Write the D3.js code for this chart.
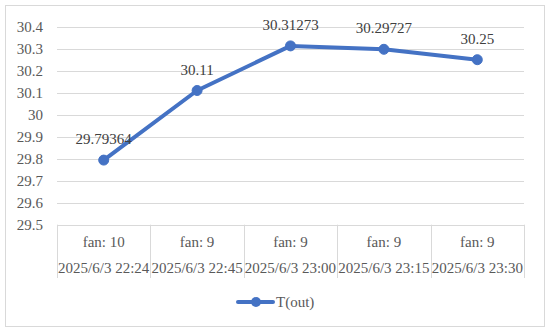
<!DOCTYPE html>
<html>
<head>
<meta charset="utf-8">
<script src="https://cdn.jsdelivr.net/npm/d3@7"></script>
</head>
<body style="margin:0;background:#fff">
<svg></svg>
<script>
let fans = ["fan: 10", "fan: 9", "fan: 9", "fan: 9", "fan: 9"];
let times = ["2025/6/3 22:24", "2025/6/3 22:45", "2025/6/3 23:00", "2025/6/3 23:15", "2025/6/3 23:30"];
let values = [29.79364, 30.11, 30.31273, 30.29727, 30.25];
let valueLabels = ["29.79364", "30.11", "30.31273", "30.29727", "30.25"];
let yTicks = [29.5, 29.6, 29.7, 29.8, 29.9, 30, 30.1, 30.2, 30.3, 30.4];
let seriesName = "T(out)";

let width = 550;
let height = 334;
let plotLeft = 57;
let plotRight = 524;
let plotTop = 26.7;
let plotBottom = 224.7;
let lineColor = "#4472C4";
let gridColor = "#d9d9d9";
let textColor = "#595959";
let fontName = "'Liberation Serif', monospace";

let svg = d3.select("svg").attr("width", width).attr("height", height)
  .style("display", "block");

// chart border
svg.append("rect")
  .attr("x", 5.5).attr("y", 5.5)
  .attr("width", 539).attr("height", 321)
  .attr("fill", "#fff")
  .attr("stroke", gridColor);

let xScale = d3.scaleBand()
  .domain(d3.range(values.length))
  .range([plotLeft, plotRight])
  .padding(0);

let yScale = d3.scaleLinear()
  .domain([29.5, 30.4])
  .range([plotBottom, plotTop]);

// gridlines
svg.append("g")
  .selectAll("line")
  .data(yTicks.slice(1))
  .enter()
  .append("line")
  .attr("x1", plotLeft).attr("x2", plotRight)
  .attr("y1", d => Math.round(yScale(d)) + 0.5)
  .attr("y2", d => Math.round(yScale(d)) + 0.5)
  .attr("stroke", gridColor)
  .attr("stroke-width", 1);

// y axis labels
let yAxis = d3.axisLeft(yScale)
  .tickValues(yTicks)
  .tickSize(0)
  .tickPadding(14)
  .tickFormat(d => String(+d.toFixed(1)));

let yG = svg.append("g")
  .attr("transform", "translate(" + plotLeft + ",0)")
  .call(yAxis)
  .attr("font-family", null)
  .attr("font-size", null);
yG.select(".domain").remove();
yG.selectAll("text")
  .attr("font-size", 15)
  .style("font-family", fontName)
  .attr("fill", textColor);

// category table
let tableBottom = 278;
let table = svg.append("g");
table.append("line")
  .attr("x1", plotLeft).attr("x2", plotRight)
  .attr("y1", Math.round(plotBottom) + 0.5).attr("y2", Math.round(plotBottom) + 0.5)
  .attr("stroke", gridColor);
table.selectAll("line.div")
  .data(d3.range(values.length + 1))
  .enter()
  .append("line")
  .attr("class", "div")
  .attr("x1", i => Math.round(i < values.length ? xScale(i) : plotRight) + 0.5)
  .attr("x2", i => Math.round(i < values.length ? xScale(i) : plotRight) + 0.5)
  .attr("y1", plotBottom).attr("y2", tableBottom)
  .attr("stroke", gridColor);

table.selectAll("text.fan")
  .data(fans)
  .enter()
  .append("text")
  .attr("class", "fan")
  .attr("x", (d, i) => xScale(i) + xScale.bandwidth() / 2)
  .attr("y", 247)
  .attr("text-anchor", "middle")
  .attr("font-size", 15)
  .style("font-family", fontName)
  .attr("fill", textColor)
  .text(d => d);

table.selectAll("text.time")
  .data(times)
  .enter()
  .append("text")
  .attr("class", "time")
  .attr("x", (d, i) => xScale(i) + xScale.bandwidth() / 2)
  .attr("y", 273)
  .attr("text-anchor", "middle")
  .attr("font-size", 15)
  .style("font-family", fontName)
  .attr("fill", textColor)
  .text(d => d);

// line
let line = d3.line()
  .x((d, i) => xScale(i) + xScale.bandwidth() / 2)
  .y(d => yScale(d));

svg.append("path")
  .datum(values)
  .attr("d", line)
  .attr("fill", "none")
  .attr("stroke", lineColor)
  .attr("stroke-width", 4)
  .attr("stroke-linejoin", "round")
  .attr("stroke-linecap", "round");

svg.selectAll("circle.pt")
  .data(values)
  .enter()
  .append("circle")
  .attr("class", "pt")
  .attr("cx", (d, i) => xScale(i) + xScale.bandwidth() / 2)
  .attr("cy", d => yScale(d))
  .attr("r", 5)
  .attr("fill", lineColor)
  .attr("stroke", lineColor);

// data labels
svg.selectAll("text.lbl")
  .data(values)
  .enter()
  .append("text")
  .attr("class", "lbl")
  .attr("x", (d, i) => xScale(i) + xScale.bandwidth() / 2)
  .attr("y", d => yScale(d) - 16)
  .attr("text-anchor", "middle")
  .attr("font-size", 15)
  .style("font-family", fontName)
  .attr("fill", "#404040")
  .text((d, i) => valueLabels[i]);

// legend
let legend = svg.append("g");
legend.append("line")
  .attr("x1", 238).attr("x2", 273)
  .attr("y1", 302).attr("y2", 302)
  .attr("stroke", lineColor)
  .attr("stroke-width", 4)
  .attr("stroke-linecap", "round");
legend.append("circle")
  .attr("cx", 256).attr("cy", 302)
  .attr("r", 5)
  .attr("fill", lineColor);
legend.append("text")
  .attr("x", 276).attr("y", 307)
  .attr("font-size", 15)
  .style("font-family", fontName)
  .attr("fill", textColor)
  .text(seriesName);
</script>
</body>
</html>
